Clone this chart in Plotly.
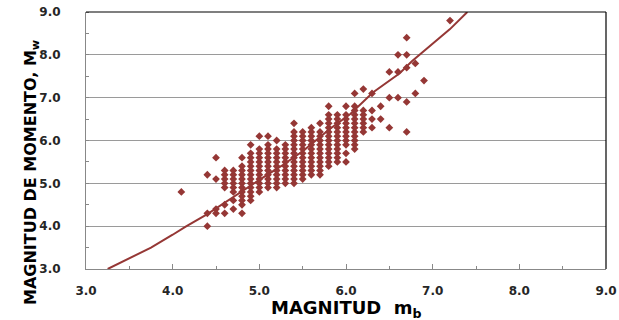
import plotly.graph_objects as go

# ---- data: m_b columns and the M_w values observed in each column ----
mb_columns = [4.1, 4.4, 4.5, 4.6, 4.7, 4.8, 4.9, 5.0, 5.1, 5.2, 5.3, 5.4, 5.5, 5.6,
              5.7, 5.8, 5.9, 6.0, 6.1, 6.2, 6.3, 6.4, 6.5, 6.6, 6.7, 6.8, 6.9, 7.2]
mw_values = [
    [4.8],
    [4.0, 4.3, 5.2],
    [4.3, 4.4, 5.1, 5.6],
    [4.3, 4.5, 4.9, 5.0, 5.1, 5.2, 5.3],
    [4.4, 4.6, 4.8, 4.9, 5.0, 5.1, 5.2, 5.3],
    [4.3, 4.5, 4.6, 4.7, 4.8, 4.9, 5.0, 5.1, 5.2, 5.3, 5.4, 5.6],
    [4.6, 4.7, 4.8, 4.9, 5.0, 5.1, 5.2, 5.3, 5.4, 5.5, 5.6, 5.7, 5.9],
    [4.8, 4.9, 5.0, 5.1, 5.2, 5.3, 5.4, 5.5, 5.6, 5.7, 5.8, 6.1],
    [4.9, 5.0, 5.1, 5.2, 5.3, 5.4, 5.5, 5.6, 5.7, 5.8, 5.9, 6.1],
    [4.9, 5.0, 5.1, 5.2, 5.3, 5.4, 5.5, 5.6, 5.7, 5.8, 6.0],
    [5.0, 5.1, 5.2, 5.3, 5.4, 5.5, 5.6, 5.7, 5.8, 5.9],
    [5.0, 5.1, 5.2, 5.3, 5.4, 5.5, 5.6, 5.7, 5.8, 5.9, 6.0, 6.1, 6.2, 6.4],
    [5.1, 5.2, 5.3, 5.4, 5.5, 5.6, 5.7, 5.8, 5.9, 6.0, 6.1, 6.2],
    [5.2, 5.3, 5.4, 5.5, 5.6, 5.7, 5.8, 5.9, 6.0, 6.1, 6.2, 6.3],
    [5.2, 5.3, 5.4, 5.5, 5.6, 5.7, 5.8, 5.9, 6.0, 6.1, 6.2, 6.4],
    [5.4, 5.5, 5.6, 5.7, 5.8, 5.9, 6.0, 6.1, 6.2, 6.3, 6.4, 6.5, 6.6, 6.8],
    [5.5, 5.6, 5.7, 5.8, 5.9, 6.0, 6.1, 6.2, 6.3, 6.4, 6.5, 6.6],
    [5.5, 5.7, 5.9, 6.0, 6.1, 6.2, 6.3, 6.4, 6.5, 6.6, 6.8],
    [5.8, 5.9, 6.0, 6.1, 6.2, 6.3, 6.4, 6.5, 6.6, 6.7, 6.8, 7.1],
    [6.2, 6.3, 6.4, 6.5, 6.6, 6.7, 7.2],
    [6.3, 6.5, 6.7, 7.1],
    [6.5, 6.8],
    [6.3, 7.0, 7.6],
    [7.0, 7.6, 8.0],
    [6.2, 6.9, 7.7, 8.0, 8.4],
    [7.1, 7.8],
    [7.4],
    [8.8],
]

# ---- regression curve ----
curve_mb = [3.25, 3.5, 3.75, 4.0, 4.15, 4.4, 4.6, 4.9, 5.0, 5.25, 5.5, 5.82,
            6.05, 6.31, 6.62, 6.76, 7.0, 7.2, 7.4]
curve_mw = [3.0, 3.25, 3.5, 3.8, 3.99, 4.28, 4.55, 4.95, 5.08, 5.4, 5.75, 6.28,
            6.62, 7.12, 7.57, 7.85, 8.27, 8.6, 9.0]

tick_vals = [3.0, 4.0, 5.0, 6.0, 7.0, 8.0, 9.0]
tick_text = ["3.0", "4.0", "5.0", "6.0", "7.0", "8.0", "9.0"]

x_title = "MAGNITUD\u00a0\u00a0m<sub>b</sub>"
y_title = "MAGNITUD DE MOMENTO, M<sub>w</sub>"

x_pts, y_pts = [], []
for xv, col in zip(mb_columns, mw_values):
    for yv in col:
        x_pts.append(xv)
        y_pts.append(yv)

RED = "#953735"
FONT = "DejaVu Sans, Verdana, sans-serif"

fig = go.Figure()
fig.add_trace(go.Scatter(
    x=x_pts, y=y_pts, mode="markers",
    marker=dict(symbol="diamond", size=6, color=RED, line=dict(width=0)),
    hoverinfo="x+y", showlegend=False, cliponaxis=True))
fig.add_trace(go.Scatter(
    x=curve_mb, y=curve_mw, mode="lines",
    line=dict(color=RED, width=2), showlegend=False, cliponaxis=True))

axis_common = dict(
    range=[3.0, 9.0], tickvals=tick_vals, ticktext=tick_text,
    tickfont=dict(family=FONT, size=12, color="#262626", weight="bold"),
    showline=True, linecolor="#888888", linewidth=1,
    zeroline=False, fixedrange=True, automargin=False,
    ticklabeloverflow="allow",
)

fig.update_xaxes(
    **axis_common,
    showgrid=False, ticks="inside", ticklen=5, tickcolor="#888888",
    minor=dict(dtick=0.5, ticks="inside", ticklen=3, tickcolor="#888888", showgrid=False),
    ticklabelstandoff=11,
)
fig.update_yaxes(
    **axis_common,
    showgrid=True, gridcolor="#9a9a9a", gridwidth=1,
    ticks="",
    minor=dict(dtick=0.5, ticks="inside", ticklen=3, tickcolor="#888888", showgrid=False),
    ticklabelstandoff=22,
)

# axis titles as annotations (placed like the reference)
fig.add_annotation(text=x_title, xref="paper", yref="paper", x=0.5, y=-0.157,
                   xanchor="center", yanchor="middle", showarrow=False,
                   font=dict(family=FONT, size=18, color="#000000", weight="bold"))
fig.add_annotation(text=y_title, xref="paper", yref="paper", x=-0.106, y=0.377,
                   xanchor="center", yanchor="middle", showarrow=False, textangle=-90,
                   font=dict(family=FONT, size=16, color="#000000", weight="bold"))

# plot-area border on top and right edges
fig.add_shape(type="line", xref="paper", yref="paper", x0=0, x1=1, y0=1, y1=1,
              line=dict(color="#000000", width=1.2))
fig.add_shape(type="line", xref="paper", yref="paper", x0=1, x1=1, y0=0, y1=1,
              line=dict(color="#000000", width=1.2))

fig.update_layout(
    width=619, height=320,
    margin=dict(l=86, r=13, t=12, b=51),
    paper_bgcolor="white", plot_bgcolor="white",
    font=dict(family=FONT),
)

# remove the default page margin so the figure sits at the window's corner
fig.write_html("out.html",
               config={"displayModeBar": False, "staticPlot": True},
               post_script="document.body.style.margin='0';document.body.style.overflow='hidden';")
